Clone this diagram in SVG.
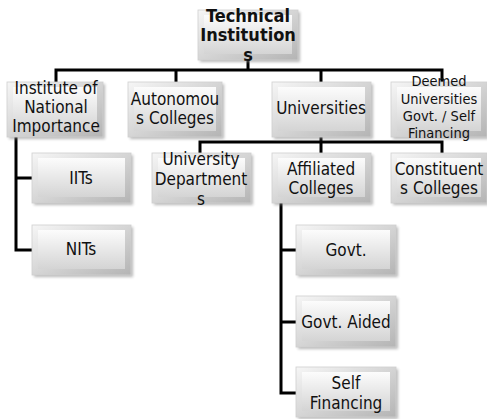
<svg xmlns="http://www.w3.org/2000/svg" width="487" height="419" viewBox="0 0 487 419">
<defs>
<linearGradient id="edge" x1="0" y1="0" x2="1" y2="1">
<stop offset="0" stop-color="#f6f6f6"/>
<stop offset="1" stop-color="#b4b4b4"/>
</linearGradient>
<linearGradient id="face" x1="0" y1="0" x2="0" y2="1">
<stop offset="0" stop-color="#fcfcfc"/>
<stop offset="1" stop-color="#d4d4d4"/>
</linearGradient>
<filter id="sh" x="-10%" y="-10%" width="130%" height="140%">
<feGaussianBlur stdDeviation="1.5"/>
</filter>
</defs>
<style>
.sd{fill:#8a8a8a;opacity:0.6;filter:url(#sh)}
.ed{fill:url(#edge);stroke:#cfcfcf;stroke-width:0.8}
.fc{fill:url(#face)}
.t{font-family:"DejaVu Sans Condensed","DejaVu Sans",sans-serif;font-stretch:condensed;font-size:17px;fill:#111;text-anchor:middle}
.s{font-size:14.5px}
.b{font-weight:bold;font-size:18px}
.ln{stroke:#000;stroke-width:3;fill:none}
</style>
<rect width="487" height="419" fill="#fff"/>
<g id="connectors">
<path class="ln" d="M248,60 V70 M56,82 V70 H442 V82 M176,70 V82 M321,70 V82"/>
<path class="ln" d="M321,137 V142 M200,153 V142 H442 V153 M321,142 V153"/>
<path class="ln" d="M16,137 V250 H32 M16,178 H32"/>
<path class="ln" d="M281,203 V393 H296 M281,250 H296 M281,322 H296"/>
</g>
<g id="root">
<rect class="sd" x="200" y="12" width="100" height="50"/>
<rect class="ed" x="198" y="10" width="100" height="50"/>
<rect class="fc" x="204" y="15" width="88" height="39"/>
<text class="t b" x="248" y="22">Technical</text>
<text class="t b" x="248" y="41">Institution</text>
<text class="t b" x="248" y="61">s</text>
</g>
<g id="inst">
<rect class="sd" x="9" y="84" width="96" height="55"/>
<rect class="ed" x="7" y="82" width="96" height="55"/>
<rect class="fc" x="13" y="87" width="84" height="44"/>
<text class="t" x="56" y="94">Institute of</text>
<text class="t" x="56" y="113">National</text>
<text class="t" x="56" y="132">Importance</text>
</g>
<g id="auto">
<rect class="sd" x="130" y="84" width="94" height="55"/>
<rect class="ed" x="128" y="82" width="94" height="55"/>
<rect class="fc" x="134" y="87" width="82" height="44"/>
<text class="t" x="175" y="105">Autonomou</text>
<text class="t" x="175" y="124">s Colleges</text>
</g>
<g id="univ">
<rect class="sd" x="274" y="84" width="99" height="55"/>
<rect class="ed" x="272" y="82" width="99" height="55"/>
<rect class="fc" x="278" y="87" width="87" height="44"/>
<text class="t" x="321" y="114">Universities</text>
</g>
<g id="deemed">
<rect class="sd" x="393" y="84" width="96" height="55"/>
<rect class="ed" x="391" y="82" width="96" height="55"/>
<rect class="fc" x="397" y="87" width="84" height="44"/>
<text class="t s" x="439" y="86">Deemed</text>
<text class="t s" x="439" y="104">Universities</text>
<text class="t s" x="439" y="121">Govt. / Self</text>
<text class="t s" x="439" y="138">Financing</text>
</g>
<g id="iits">
<rect class="sd" x="34" y="155" width="99" height="50"/>
<rect class="ed" x="32" y="153" width="99" height="50"/>
<rect class="fc" x="38" y="158" width="87" height="39"/>
<text class="t" x="81" y="184">IITs</text>
</g>
<g id="nits">
<rect class="sd" x="34" y="227" width="99" height="50"/>
<rect class="ed" x="32" y="225" width="99" height="50"/>
<rect class="fc" x="38" y="230" width="87" height="39"/>
<text class="t" x="81" y="255">NITs</text>
</g>
<g id="udept">
<rect class="sd" x="154" y="155" width="99" height="50"/>
<rect class="ed" x="152" y="153" width="99" height="50"/>
<rect class="fc" x="158" y="158" width="87" height="39"/>
<text class="t" x="201" y="165">University</text>
<text class="t" x="201" y="185">Department</text>
<text class="t" x="201" y="205">s</text>
</g>
<g id="affil">
<rect class="sd" x="274" y="155" width="99" height="50"/>
<rect class="ed" x="272" y="153" width="99" height="50"/>
<rect class="fc" x="278" y="158" width="87" height="39"/>
<text class="t" x="321" y="175">Affiliated</text>
<text class="t" x="321" y="194">Colleges</text>
</g>
<g id="const">
<rect class="sd" x="393" y="155" width="96" height="50"/>
<rect class="ed" x="391" y="153" width="96" height="50"/>
<rect class="fc" x="397" y="158" width="84" height="39"/>
<text class="t" x="439" y="175">Constituent</text>
<text class="t" x="439" y="194">s Colleges</text>
</g>
<g id="govt">
<rect class="sd" x="298" y="227" width="100" height="50"/>
<rect class="ed" x="296" y="225" width="100" height="50"/>
<rect class="fc" x="302" y="230" width="88" height="39"/>
<text class="t" x="346" y="256">Govt.</text>
</g>
<g id="aided">
<rect class="sd" x="298" y="298" width="100" height="51"/>
<rect class="ed" x="296" y="296" width="100" height="51"/>
<rect class="fc" x="302" y="301" width="88" height="40"/>
<text class="t" x="346" y="328">Govt. Aided</text>
</g>
<g id="self">
<rect class="sd" x="298" y="369" width="100" height="50"/>
<rect class="ed" x="296" y="367" width="100" height="50"/>
<rect class="fc" x="302" y="372" width="88" height="39"/>
<text class="t" x="346" y="389">Self</text>
<text class="t" x="346" y="409">Financing</text>
</g>
</svg>
